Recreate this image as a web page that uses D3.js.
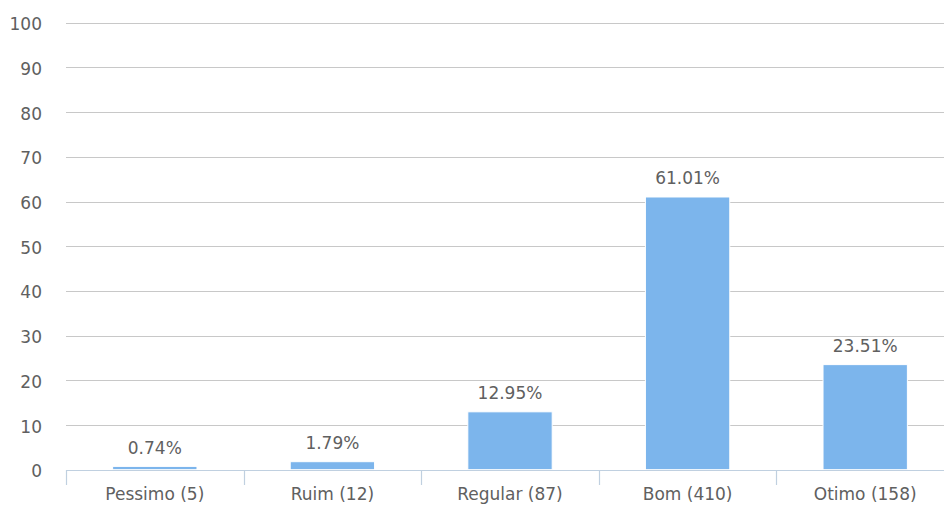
<!DOCTYPE html>
<html>
<head>
<meta charset="utf-8">
<script src="https://cdn.jsdelivr.net/npm/d3@7"></script>
<style>
  html, body { margin: 0; padding: 0; background: #fff; }
  svg { display: block; font-family: "DejaVu Sans", sans-serif; }
</style>
</head>
<body>
<svg id="chart" width="944" height="506"></svg>
<script>
// Rating categories and their share of answers (%)
const categories = ["Pessimo (5)", "Ruim (12)", "Regular (87)", "Bom (410)", "Otimo (158)"];
const percentages = [0.74, 1.79, 12.95, 61.01, 23.51];
const yTicks = [0, 10, 20, 30, 40, 50, 60, 70, 80, 90, 100];

(function () {
  const svg = d3.select("#chart");
  const plotLeft = 66, plotRight = 954, plotTop = 22.7, plotBottom = 469.7;

  const x = d3.scaleBand()
    .domain(categories)
    .range([plotLeft, plotRight])
    .paddingInner(0.525)
    .paddingOuter(0.2625);

  const y = d3.scaleLinear().domain([0, 100]).range([plotBottom, plotTop]);

  // Horizontal grid lines
  svg.append("g")
    .selectAll("line")
    .data(yTicks.filter(t => t > 0))
    .join("line")
    .attr("x1", plotLeft).attr("x2", 944)
    .attr("y1", d => Math.round(y(d)) + 0.5).attr("y2", d => Math.round(y(d)) + 0.5)
    .attr("stroke", "#c8c8c8").attr("stroke-width", 1.2);

  // Y axis labels
  svg.append("g")
    .selectAll("text")
    .data(yTicks)
    .join("text")
    .attr("x", 42)
    .attr("y", d => y(d) + 7.5)
    .attr("text-anchor", "end")
    .attr("fill", "#606060")
    .attr("font-size", 17)
    .text(d => d);

  // Bars
  svg.append("g")
    .selectAll("rect")
    .data(percentages)
    .join("rect")
    .attr("x", (d, i) => x(categories[i]))
    .attr("width", x.bandwidth())
    .attr("y", d => y(d))
    .attr("height", d => y(0) - y(d))
    .attr("fill", "#7cb5ec")
    .attr("stroke", "#ffffff")
    .attr("stroke-width", 1);

  // Value labels above bars
  svg.append("g")
    .selectAll("text")
    .data(percentages)
    .join("text")
    .attr("x", (d, i) => x(categories[i]) + x.bandwidth() / 2)
    .attr("y", d => y(d) - 12.5)
    .attr("text-anchor", "middle")
    .attr("fill", "#606060")
    .attr("font-size", 17)
    .text(d => d.toFixed(2) + "%");

  // X axis line
  svg.append("line")
    .attr("x1", plotLeft).attr("x2", 944)
    .attr("y1", Math.round(y(0)) + 0.5).attr("y2", Math.round(y(0)) + 0.5)
    .attr("stroke", "#c0d0e0").attr("stroke-width", 1.2);

  // Category boundary ticks
  const step = x.step();
  const tickXs = d3.range(categories.length + 1).map(i => plotLeft + i * step);
  svg.append("g")
    .selectAll("line")
    .data(tickXs)
    .join("line")
    .attr("x1", d => Math.round(d) + 0.5).attr("x2", d => Math.round(d) + 0.5)
    .attr("y1", Math.round(y(0))).attr("y2", Math.round(y(0)) + 15)
    .attr("stroke", "#c0d0e0").attr("stroke-width", 1.2);

  // Category labels
  svg.append("g")
    .selectAll("text")
    .data(categories)
    .join("text")
    .attr("x", d => x(d) + x.bandwidth() / 2)
    .attr("y", 500)
    .attr("text-anchor", "middle")
    .attr("fill", "#606060")
    .attr("font-size", 17)
    .text(d => d);
})();
</script>
</body>
</html>
